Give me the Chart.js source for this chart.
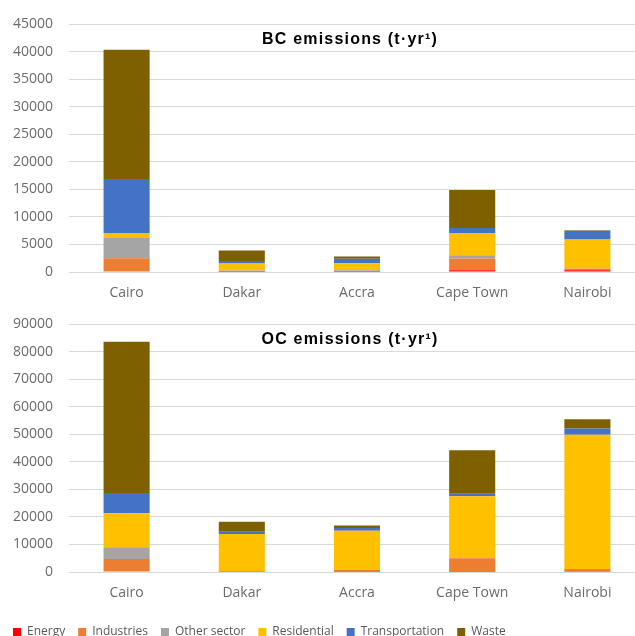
<!DOCTYPE html>
<html>
<head>
<meta charset="utf-8">
<script src="https://cdn.jsdelivr.net/npm/chart.js@4/dist/chart.umd.min.js"></script>
<style>
  body{margin:0;width:635px;height:636px;overflow:hidden;background:#fff;position:relative}
  canvas{position:absolute;left:0}
  #bc{top:0}
  #oc{top:300px}
</style>
</head>
<body>
<canvas id="bc" width="645" height="301"></canvas>
<canvas id="oc" width="645" height="348"></canvas>
<script>
// 도시 / 부문
const cities = ['Cairo', 'Dakar', 'Accra', 'Cape Town', 'Nairobi'];
const sectors = ['Energy', 'Industries', 'Other sector', 'Residential', 'Transportation', 'Waste'];
const colors = ['#FF0000', '#ED7D31', '#A5A5A5', '#FFC000', '#4472C4', '#7F6000'];

// BC emissions (t/yr)
const bcEnergy      = [100, 50, 50, 300, 300];
const bcIndustries  = [2400, 150, 150, 2150, 350];
const bcOther       = [3700, 50, 100, 600, 0];
const bcResidential = [900, 1300, 1300, 4050, 5250];
const bcTransport   = [9800, 450, 800, 900, 1600];
const bcWaste       = [23500, 1900, 400, 6900, 100];

// OC emissions (t/yr)
const ocEnergy      = [200, 50, 100, 100, 400];
const ocIndustries  = [4500, 150, 700, 4900, 700];
const ocOther       = [4300, 0, 0, 0, 0];
const ocResidential = [12400, 13600, 14200, 22500, 48800];
const ocTransport   = [7300, 800, 1000, 900, 2300];
const ocWaste       = [55000, 3700, 900, 15900, 3300];

// y축 눈금
const bcMax = 45000, bcStep = 5000;
const ocMax = 90000, ocStep = 10000;

Chart.defaults.font.family = "'Open Sans', sans-serif";
Chart.defaults.color = '#6b6b6b';

// 차트 안쪽 제목 (엑셀처럼 플롯 위에 겹쳐서)
const innerTitle = {
  id: 'innerTitle',
  afterDraw(chart, args, opts) {
    const c = chart.ctx, a = chart.chartArea;
    c.save();
    c.font = "bold 16px 'Liberation Sans', Arial, sans-serif";
    c.letterSpacing = '1.2px';
    c.fillStyle = '#000';
    c.textAlign = 'center';
    c.textBaseline = 'middle';
    c.fillText(opts.text, (a.left + a.right) / 2 - 7, a.top + 15);
    c.restore();
  }
};

function makeChart(id, series, max, step, title, showLegend) {
  return new Chart(document.getElementById(id), {
    type: 'bar',
    data: {
      labels: cities,
      datasets: sectors.map((s, i) => ({
        label: s,
        data: series[i],
        backgroundColor: colors[i],
        borderWidth: 0,
        barPercentage: 0.4,
        categoryPercentage: 1
      }))
    },
    options: {
      responsive: false,
      animation: false,
      layout: { padding: { top: 22, left: 0, right: 0, bottom: 0 } },
      scales: {
        x: {
          stacked: true,
          grid: { display: false, drawTicks: false },
          border: { display: false },
          ticks: { padding: 13, font: { size: 14 } },
          afterFit: (s) => { s.height = showLegend ? 41 : 29; }
        },
        y: {
          stacked: true,
          min: 0, max: max,
          ticks: { stepSize: step, padding: 16, font: { size: 14 }, callback: (v) => String(v) },
          grid: { color: '#d9d9d9', drawTicks: false },
          border: { display: false },
          afterFit: (s) => { s.width = 69; }
        }
      },
      plugins: {
        legend: {
          display: showLegend,
          position: 'bottom',
          align: 'start',
          labels: { boxWidth: 8, boxHeight: 8, padding: 13, color: '#595959', font: { size: 12 } }
        },
        tooltip: { enabled: false },
        innerTitle: { text: title }
      }
    },
    plugins: [innerTitle]
  });
}

makeChart('bc', [bcEnergy, bcIndustries, bcOther, bcResidential, bcTransport, bcWaste],
  bcMax, bcStep, 'BC emissions (t·yr¹)', false);
makeChart('oc', [ocEnergy, ocIndustries, ocOther, ocResidential, ocTransport, ocWaste],
  ocMax, ocStep, 'OC emissions (t·yr¹)', true);
</script>
</body>
</html>
